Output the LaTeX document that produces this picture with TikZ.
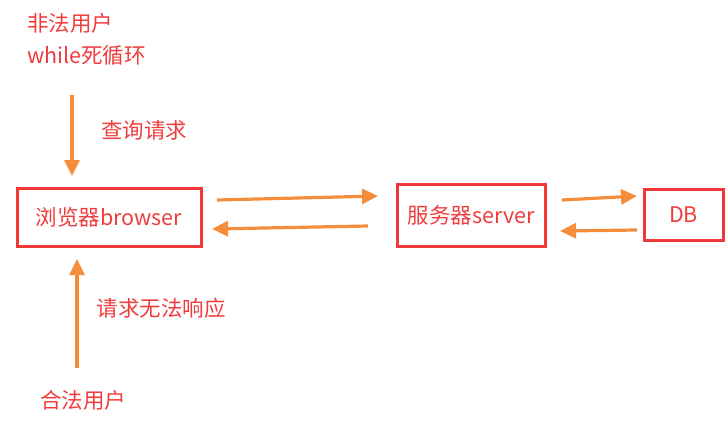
\documentclass[tikz,border=0pt]{standalone}
\usepackage{fontspec}
\setmainfont{Noto Sans CJK SC}
\usetikzlibrary{arrows.meta}
\definecolor{txtred}{RGB}{240,60,60}
\definecolor{boxred}{RGB}{240,56,56}
\definecolor{arrorange}{RGB}{245,142,60}
\tikzset{
  box/.style={draw=boxred, line width=3pt, text=txtred, inner sep=0pt},
  lbl/.style={text=txtred, inner sep=0pt},
  flow/.style={draw=arrorange, line width=3.2pt, -{Triangle[length=16pt,width=15pt]}}
}
\begin{document}
\begin{tikzpicture}[x=1pt,y=-1pt,font=\fontsize{21.5}{32}\selectfont]
\useasboundingbox (0,0) rectangle (727,432);
\node[lbl, align=left, anchor=north west] (bad) at (27,13) {非法用户\\while死循环};
\node[lbl] (query) at (144,130) {查询请求};
\node[box, minimum width=184pt, minimum height=58pt] (browser) at (109,217) {浏览器browser};
\node[box, minimum width=148pt, minimum height=62pt] (server) at (471,215) {服务器server};
\node[box, minimum width=79pt, minimum height=51pt] (db) at (683.5,214.5) {DB};
\node[lbl] (noreply) at (161,308) {请求无法响应};
\node[lbl] (good) at (83,400) {合法用户};
% arrow end points
\coordinate (q1) at (72,95);   \coordinate (q2) at (72,176);
\coordinate (bs1) at (217,200); \coordinate (bs2) at (378,196);
\coordinate (sb1) at (368,226); \coordinate (sb2) at (212,229);
\coordinate (sd1) at (562,200); \coordinate (sd2) at (637,196);
\coordinate (ds1) at (637,230); \coordinate (ds2) at (560,231);
\coordinate (g1) at (77,368);  \coordinate (g2) at (77,259);
\draw[flow] (q1)--(q2);
\draw[flow] (bs1)--(bs2);
\draw[flow] (sb1)--(sb2);
\draw[flow] (sd1)--(sd2);
\draw[flow] (ds1)--(ds2);
\draw[flow] (g1)--(g2);
\end{tikzpicture}
\end{document}
